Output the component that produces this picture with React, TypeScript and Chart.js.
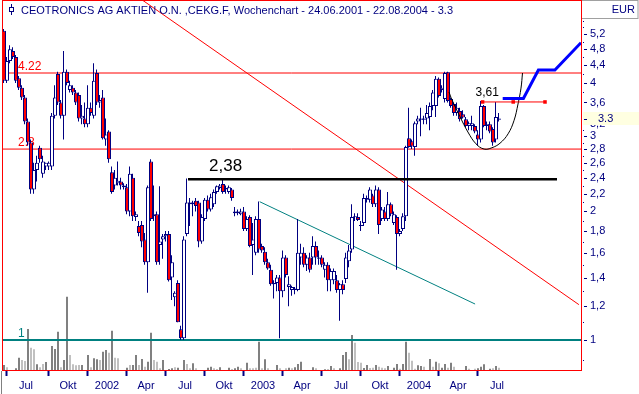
import React, { useEffect, useRef } from 'react';
import { Chart, registerables } from 'chart.js';

Chart.register(...registerables);

// ---------------- data ----------------
const TITLE = 'CEOTRONICS AG AKTIEN O.N. ,CEKG.F, Wochenchart - 24.06.2001 - 22.08.2004 - 3.3';
const FIRST_WEEK = Date.UTC(2001, 5, 24);
const CURRENCY = 'EUR';

const opens = [
  5.3, 4.05, 4.5, 4.75, 4.6, 4.1, 3.9, 3.7, 3.25, 2.9,
  2.25, 2.5, 2.82, 2.45, 2.55, 2.55, 2.55, 3.35, 4.2, 3.6,
  3.35, 4.25, 3.85, 3.9, 3.8, 3.75, 3.3, 3.3, 3.2, 3.5,
  3.35, 4.22, 3.6, 3.7, 2.95, 3.08, 2.47, 2.3, 2.33, 2.35,
  2.28, 2.28, 2.0, 2.4, 1.94, 1.85, 1.86, 1.72, 1.52, 2.62,
  1.95, 1.97, 1.67, 1.72, 1.75, 1.77, 1.4, 1.26, 1.36, 1.06,
  1.01, 1.77, 2.1, 2.08, 2.12, 2.1, 1.7, 1.92, 2.13, 2.02,
  2.08, 2.22, 2.27, 2.32, 2.25, 2.22, 2.25, 2.0, 1.98, 1.97,
  2.0, 1.82, 1.94, 1.67, 1.6, 1.92, 1.66, 1.61, 1.52, 1.46,
  1.35, 1.36, 1.4, 1.3, 1.56, 1.33, 1.31, 1.31, 1.31, 1.56,
  1.6, 1.5, 1.56, 1.56, 1.66, 1.55, 1.56, 1.46, 1.5, 1.38,
  1.38, 1.38, 1.31, 1.35, 1.39, 1.53, 1.63, 1.94, 1.94, 1.85,
  1.88, 2.13, 2.13, 2.18, 2.08, 2.25, 1.92, 2.0, 1.92, 2.08,
  1.88, 1.94, 1.77, 1.82, 1.95, 2.97, 2.92, 2.83, 3.25, 3.3,
  3.28, 3.3, 3.33, 3.53, 3.53, 4.09, 3.85, 3.67, 4.24, 3.67,
  3.57, 3.4, 3.44, 3.38, 3.29, 3.17, 3.17, 3.17, 3.03, 2.95,
  3.53, 3.17, 3.2, 3.12, 2.95, 3.28,
];
const highs = [
  5.35, 4.6, 4.9, 4.85, 4.65, 4.15, 3.95, 3.75, 3.3, 2.95,
  2.6, 2.7, 2.85, 2.7, 2.6, 2.62, 3.4, 3.95, 4.25, 3.65,
  4.75, 4.3, 4.05, 3.95, 3.85, 3.8, 3.55, 3.6, 3.95, 3.6,
  4.45, 4.3, 3.75, 3.85, 3.3, 3.1, 2.55, 2.5, 2.62, 2.4,
  2.33, 2.32, 2.55, 2.45, 2.0, 1.9, 1.9, 1.78, 2.3, 2.65,
  2.3, 2.0, 2.29, 1.77, 1.8, 1.8, 1.58, 1.3, 1.38, 1.08,
  1.75, 2.39, 2.15, 2.12, 2.15, 2.12, 1.97, 2.15, 2.18, 2.2,
  2.25, 2.3, 2.32, 2.37, 2.3, 2.3, 2.27, 2.05, 2.02, 2.03,
  2.05, 1.95, 1.96, 1.88, 1.95, 2.11, 1.68, 1.65, 1.55, 1.5,
  1.38, 1.42, 1.42, 1.62, 1.58, 1.41, 1.34, 1.33, 1.92, 1.68,
  1.65, 1.58, 1.6, 1.75, 1.7, 1.62, 1.58, 1.52, 1.52, 1.47,
  1.47, 1.42, 1.36, 1.38, 1.6, 1.67, 2.08, 1.98, 1.98, 1.9,
  2.2, 2.18, 2.28, 2.2, 2.3, 2.28, 2.05, 2.05, 2.22, 2.1,
  2.0, 1.96, 1.82, 1.98, 2.85, 3.5, 2.95, 3.25, 3.35, 3.5,
  3.35, 3.55, 3.6, 3.85, 4.15, 4.12, 3.95, 4.25, 4.25, 3.7,
  3.6, 3.6, 3.5, 3.45, 3.33, 3.25, 3.35, 3.2, 3.1, 3.63,
  3.55, 3.25, 3.25, 3.15, 3.61, 3.4,
];
const lows = [
  4.0, 4.0, 4.45, 4.55, 4.0, 3.85, 3.65, 3.2, 2.85, 2.2,
  2.2, 2.35, 2.6, 2.4, 2.5, 2.5, 2.5, 3.3, 3.55, 3.3,
  2.95, 3.95, 3.8, 3.75, 3.55, 3.25, 3.2, 3.15, 3.15, 3.35,
  3.3, 3.55, 3.5, 2.95, 2.85, 2.6, 2.2, 2.25, 2.3, 2.25,
  2.25, 1.97, 1.95, 1.9, 1.9, 1.75, 1.65, 1.5, 1.29, 1.9,
  1.9, 1.5, 1.5, 1.55, 1.7, 1.37, 1.24, 1.2, 1.1, 1.0,
  1.0, 1.75, 1.85, 1.95, 2.0, 1.65, 1.68, 1.9, 2.0, 2.0,
  2.05, 2.2, 2.25, 2.2, 2.2, 2.2, 2.12, 1.95, 1.96, 1.96,
  1.8, 1.8, 1.65, 1.42, 1.58, 1.6, 1.6, 1.5, 1.46, 1.34,
  1.25, 1.3, 1.01, 1.26, 1.4, 1.2, 1.27, 1.28, 1.3, 1.5,
  1.48, 1.45, 1.44, 1.5, 1.5, 1.5, 1.48, 1.4, 1.3, 1.3,
  1.35, 1.29, 1.11, 1.28, 1.36, 1.48, 1.6, 1.9, 1.9, 1.8,
  1.85, 2.1, 2.1, 2.05, 2.05, 1.77, 1.9, 1.9, 1.9, 1.95,
  1.86, 1.46, 1.75, 1.8, 1.9, 2.82, 2.8, 2.7, 3.2, 3.0,
  3.2, 3.2, 3.1, 3.45, 3.33, 3.7, 3.8, 3.6, 3.6, 3.5,
  3.35, 3.35, 3.25, 3.3, 3.15, 3.1, 3.1, 3.05, 2.85, 2.9,
  3.15, 3.1, 3.05, 2.85, 2.9, 3.25,
];
const closes = [
  4.05, 4.5, 4.8, 4.6, 4.05, 3.9, 3.7, 3.25, 2.9, 2.25,
  2.5, 2.6, 2.65, 2.62, 2.6, 2.6, 3.35, 3.7, 3.6, 3.35,
  4.25, 4.0, 3.95, 3.8, 3.6, 3.3, 3.35, 3.2, 3.5, 3.4,
  4.05, 3.6, 3.65, 2.97, 3.03, 2.65, 2.22, 2.4, 2.36, 2.3,
  2.3, 2.0, 2.45, 1.95, 1.97, 1.78, 1.7, 1.52, 2.28, 1.92,
  1.97, 1.52, 1.7, 1.75, 1.77, 1.38, 1.52, 1.29, 1.1, 1.01,
  1.72, 2.1, 2.08, 2.1, 2.06, 1.7, 1.94, 2.13, 2.02, 2.16,
  2.22, 2.29, 2.3, 2.22, 2.27, 2.28, 2.15, 1.98, 2.0, 2.0,
  1.82, 1.92, 1.66, 1.72, 1.92, 1.63, 1.62, 1.52, 1.47, 1.35,
  1.36, 1.4, 1.3, 1.56, 1.42, 1.35, 1.33, 1.32, 1.6, 1.6,
  1.5, 1.56, 1.46, 1.66, 1.56, 1.56, 1.5, 1.5, 1.38, 1.45,
  1.45, 1.31, 1.35, 1.31, 1.56, 1.62, 1.94, 1.95, 1.91, 1.86,
  2.15, 2.15, 2.25, 2.08, 2.25, 1.86, 2.02, 1.92, 2.08, 1.97,
  1.97, 1.77, 1.8, 1.95, 2.83, 2.83, 2.84, 3.22, 3.3, 3.28,
  3.3, 3.4, 3.53, 3.8, 4.09, 3.73, 3.9, 4.22, 3.63, 3.53,
  3.4, 3.5, 3.29, 3.32, 3.17, 3.22, 3.22, 3.08, 2.95, 3.53,
  3.17, 3.2, 3.08, 2.9, 3.33, 3.3,
];
// weekly volume (thousand shares)
const volumes = [
  50, 27, 0, 0, 17, 123, 100, 90, 410, 223,
  207, 57, 27, 60, 80, 0, 240, 210, 383, 27,
  100, 733, 150, 57, 47, 50, 50, 0, 150, 27,
  117, 107, 100, 183, 200, 173, 393, 123, 117, 0,
  0, 23, 50, 50, 150, 50, 110, 33, 83, 373,
  100, 83, 17, 100, 0, 10, 17, 27, 23, 0,
  100, 60, 17, 67, 17, 0, 0, 0, 23, 33,
  17, 10, 27, 0, 0, 23, 10, 17, 33, 17,
  0, 73, 17, 17, 23, 283, 17, 107, 17, 0,
  0, 50, 17, 0, 17, 23, 17, 27, 60, 83,
  0, 0, 0, 27, 17, 0, 0, 7, 10, 40,
  17, 0, 17, 150, 180, 107, 350, 273, 80, 73,
  20, 50, 20, 23, 50, 33, 23, 17, 40, 0,
  23, 60, 13, 60, 283, 173, 93, 13, 47, 40,
  33, 0, 110, 33, 83, 67, 23, 60, 23, 73,
  33, 0, 0, 0, 40, 13, 0, 13, 17, 33,
  57, 0, 13, 17, 40, 23,
];
// 1 = volume of a rising week (dark), 0 = falling week (light)
const volumeUp = [
  1, 0, 0, 0, 1, 1, 0, 0, 1, 0,
  0, 1, 0, 0, 1, 0, 1, 1, 1, 0,
  1, 1, 0, 0, 0, 0, 1, 0, 1, 0,
  1, 1, 0, 1, 1, 0, 1, 0, 0, 0,
  0, 1, 0, 1, 1, 0, 1, 0, 1, 1,
  0, 0, 0, 1, 0, 1, 1, 0, 1, 0,
  1, 0, 0, 1, 0, 0, 0, 0, 1, 1,
  0, 0, 1, 0, 0, 1, 0, 1, 1, 0,
  0, 1, 0, 0, 0, 1, 0, 1, 0, 0,
  0, 1, 0, 0, 0, 1, 0, 1, 1, 1,
  0, 0, 0, 1, 0, 0, 0, 1, 0, 1,
  0, 0, 1, 1, 1, 0, 1, 0, 0, 0,
  1, 1, 0, 0, 1, 0, 0, 0, 1, 0,
  1, 1, 0, 1, 1, 0, 0, 0, 1, 1,
  0, 0, 1, 0, 1, 0, 1, 1, 0, 1,
  0, 0, 0, 0, 1, 0, 0, 0, 1, 1,
  1, 0, 1, 0, 1, 0,
];

const Y_TICKS = [1, 1.2, 1.4, 1.6, 1.8, 2, 2.2, 2.4, 2.6, 2.8, 3, 3.2, 3.6, 4, 4.4, 4.8, 5.2];
const Y_MINOR = [0.9, 1.1, 1.3, 1.5, 1.7, 1.9, 2.1, 2.3, 2.5, 2.7, 2.9, 3.1, 3.4, 3.8, 4.2, 4.6, 5.0, 5.4, 5.6];
const MONTH_NAMES = ['', 'Apr', 'Jul', 'Okt'];

// horizontal levels
const RESISTANCE = 4.22;
const SUPPORT = 2.8;
const BASE_LEVEL = 1;
const BREAK_LEVEL = 2.38;
const TARGET_LEVEL = 3.61;
const LAST_PRICE = 3.3;

// drawn lines (x = week index, y = price)
const redTrend = [{ x: 46.2, y: 6.26 }, { x: 191.8, y: 1.21 }];
const tealTrend = [{ x: 85.4, y: 2.108 }, { x: 157.2, y: 1.214 }];
const breakLine = [{ x: 61.5, y: BREAK_LEVEL }, { x: 184.5, y: BREAK_LEVEL }];
const targetLine = [{ x: 159.7, y: TARGET_LEVEL }, { x: 169.9, y: TARGET_LEVEL }, { x: 180.5, y: TARGET_LEVEL }];
const projection = [
  { x: 166.4, y: 3.68 }, { x: 173.3, y: 3.68 }, { x: 178.3, y: 4.29 },
  { x: 183.8, y: 4.29 }, { x: 192.5, y: 4.97 },
];
const cupArc = [
  { x: 148.5, y: 3.81 }, { x: 149.5, y: 3.65 }, { x: 152.2, y: 3.33 }, { x: 154.8, y: 3.07 },
  { x: 157.5, y: 2.88 }, { x: 160.2, y: 2.8 }, { x: 162.8, y: 2.82 }, { x: 165.5, y: 2.89 },
  { x: 168.2, y: 3.04 }, { x: 170.2, y: 3.27 }, { x: 171.5, y: 3.57 }, { x: 172.5, y: 3.89 },
  { x: 173.0, y: 4.22 },
];

const X_MIN = -0.5;
const X_MAX = 192.5;
const BODY_SHIFT = 1 / 6; // half a pixel in weeks, keeps the 4px bodies on whole pixels
const Y_MIN = 0.8506;
const Y_MAX = 6.256;
const VOL_MAX = 3700;

// ---------------- derived ----------------
const DAY = 86400000;
const weekDate = (i: number) => new Date(FIRST_WEEK + i * 7 * DAY);
const quarterTicks: { index: number; label: string }[] = [];
for (let i = 1; i < closes.length; i++) {
  const m = weekDate(i).getUTCMonth();
  const pm = weekDate(i - 1).getUTCMonth();
  if (m !== pm && m % 3 === 0) {
    quarterTicks.push({ index: i, label: m === 0 ? String(weekDate(i).getUTCFullYear()) : MONTH_NAMES[m / 3] });
  }
}

const FONT = '"Liberation Sans", Arial, sans-serif';
const NAVY = '#000080';
const fmt = (v: number) => String(v).replace('.', ',');
const hline = (v: number) => [{ x: X_MIN, y: v }, { x: X_MAX, y: v }];

const overlay = {
  id: 'overlay',
  beforeDatasetsDraw(chart: any) {
    const { ctx, chartArea } = chart;
    const ys = chart.scales.y;
    ctx.save();
    ctx.font = `12px ${FONT}`;
    ctx.textAlign = 'left';
    ctx.textBaseline = 'alphabetic';
    const lv = (v: number, color: string) => {
      ctx.fillStyle = color;
      ctx.fillText(String(v), chartArea.left + 16, ys.getPixelForValue(v) - 3);
    };
    lv(RESISTANCE, '#ff0000');
    lv(SUPPORT, '#ff0000');
    lv(BASE_LEVEL, '#008080');
    ctx.restore();
  },
  afterDatasetsDraw(chart: any) {
    const { ctx } = chart;
    const xs = chart.scales.x;
    const ys = chart.scales.y;
    ctx.save();
    ctx.fillStyle = '#000000';
    ctx.textAlign = 'left';
    ctx.textBaseline = 'alphabetic';
    ctx.font = `17px ${FONT}`;
    ctx.fillText(fmt(BREAK_LEVEL), xs.getPixelForValue(breakLine[0].x) + 21, ys.getPixelForValue(BREAK_LEVEL) - 8);
    ctx.font = `12px ${FONT}`;
    ctx.fillText(fmt(TARGET_LEVEL), xs.getPixelForValue(targetLine[0].x) - 7, ys.getPixelForValue(TARGET_LEVEL) - 6);
    ctx.restore();
  },
  afterDraw(chart: any) {
    const { ctx, chartArea, width, height } = chart;
    const ys = chart.scales.y;
    const { left, right, top, bottom } = chartArea;
    ctx.save();
    // y tick marks
    ctx.fillStyle = NAVY;
    Y_TICKS.forEach((v) => {
      const y = Math.round(ys.getPixelForValue(v));
      ctx.fillRect(right + 3, y, 3, 1);
    });
    Y_MINOR.forEach((v) => {
      const y = Math.round(ys.getPixelForValue(v));
      if (y > 0 && y < bottom) ctx.fillRect(right + 2, y, 1, 1);
    });
    // current price box
    const py = ys.getPixelForValue(LAST_PRICE);
    ctx.fillStyle = '#ffffe1';
    ctx.fillRect(right + 2, Math.round(py) - 7, width - right - 2, 13);
    ctx.fillStyle = NAVY;
    ctx.fillRect(right + 3, Math.round(py), 3, 1);
    ctx.font = `11px ${FONT}`;
    ctx.textAlign = 'left';
    ctx.textBaseline = 'middle';
    ctx.fillText(String(LAST_PRICE), right + 17, py);
    // EUR box
    ctx.strokeStyle = '#a0a0a0';
    ctx.lineWidth = 1;
    ctx.strokeRect(right + 0.5, 0.5, width - right - 1.5, 18);
    ctx.textAlign = 'right';
    ctx.textBaseline = 'alphabetic';
    ctx.fillStyle = NAVY;
    ctx.fillText(CURRENCY, width - 4, 13);
    // frame
    ctx.strokeStyle = '#ff0000';
    ctx.strokeRect(left + 0.5, top + 0.5, right - left, bottom - top);
    ctx.strokeStyle = '#808080';
    ctx.beginPath();
    ctx.moveTo(1.5, bottom + 1);
    ctx.lineTo(1.5, height);
    ctx.stroke();
    // title with icon
    ctx.strokeStyle = NAVY;
    ctx.beginPath();
    ctx.moveTo(11.5, 4);
    ctx.lineTo(11.5, 15);
    ctx.stroke();
    ctx.fillStyle = '#ffffff';
    ctx.fillRect(9, 7, 5, 5);
    ctx.strokeRect(9.5, 7.5, 4, 4);
    ctx.fillStyle = NAVY;
    ctx.font = `11px ${FONT}`;
    ctx.textAlign = 'left';
    ctx.fillText(TITLE, 21, 13.5);
    ctx.restore();
  },
};

export default function App() {
  const ref = useRef<HTMLCanvasElement>(null);
  useEffect(() => {
    document.body.style.margin = '0';
    Chart.defaults.font.family = FONT;
    Chart.defaults.font.size = 11;
    const bodies = closes.map((c, i) => ({ x: i, y: [opens[i], c] }));
    const wicks = closes.map((_, i) => ({ x: i, y: [lows[i], highs[i]] }));
    const vols = volumes.map((v, i) => ({ x: i, y: v }));
    const lineBase = { type: 'line', pointRadius: 0, borderWidth: 1, fill: false, tension: 0, xAxisID: 'x', yAxisID: 'y' };
    const chart = new Chart(ref.current as HTMLCanvasElement, {
      type: 'bar',
      data: {
        datasets: [
          { ...lineBase, label: 'Projektion', data: projection, borderColor: '#0000ff', borderWidth: 3, order: 0 },
          {
            ...lineBase, label: 'Ziel', data: targetLine, borderColor: '#ff0000', pointRadius: 2.5,
            pointStyle: 'rect', pointBackgroundColor: '#ff0000', pointBorderWidth: 0, order: 1,
          },
          { ...lineBase, label: 'Bogen', data: cupArc, borderColor: '#000000', tension: 0.4, order: 2 },
          { ...lineBase, label: 'Ausbruch', data: breakLine, borderColor: '#000000', borderWidth: 2.5, order: 3 },
          {
            type: 'bar', label: 'Körper', data: bodies, xAxisID: 'xb', yAxisID: 'y',
            backgroundColor: closes.map((c, i) => (c < opens[i] ? '#ff0000' : '#ffffff')),
            borderColor: NAVY, borderWidth: 1, borderSkipped: false, barThickness: 4, grouped: false,
            inflateAmount: 0, order: 4,
          },
          {
            type: 'bar', label: 'Docht', data: wicks, xAxisID: 'x', yAxisID: 'y',
            backgroundColor: NAVY, borderWidth: 0, barThickness: 1, grouped: false, inflateAmount: 0, order: 5,
          },
          { ...lineBase, label: 'Trend', data: redTrend, borderColor: '#ff0000', order: 6 },
          { ...lineBase, label: 'Trend2', data: tealTrend, borderColor: '#008080', order: 6 },
          { ...lineBase, label: 'Basis', data: hline(BASE_LEVEL), borderColor: '#008080', borderWidth: 2, order: 7 },
          { ...lineBase, label: 'Widerstand', data: hline(RESISTANCE), borderColor: '#ff0000', order: 8 },
          { ...lineBase, label: 'Unterstützung', data: hline(SUPPORT), borderColor: '#ff0000', order: 8 },
          {
            type: 'bar', label: 'Volumen', data: vols, xAxisID: 'xb', yAxisID: 'y2',
            backgroundColor: volumeUp.map((u) => (u ? '#808080' : '#c0c0c0')),
            borderWidth: 0, barThickness: 2, grouped: false, inflateAmount: 0, order: 10,
          },
        ] as any,
      },
      options: {
        animation: false,
        responsive: false,
        devicePixelRatio: 1,
        events: [],
        layout: { padding: { left: 2, top: 0, right: 0, bottom: 0 }, autoPadding: false },
        plugins: { legend: { display: false }, tooltip: { enabled: false }, title: { display: false } },
        scales: {
          x: {
            type: 'linear',
            position: 'bottom',
            min: X_MIN,
            max: X_MAX,
            offset: false,
            afterBuildTicks: (s: any) => {
              s.ticks = quarterTicks.map((q) => ({ value: q.index }));
            },
            afterFit: (s: any) => {
              s.height = 24;
              s.paddingLeft = 0;
              s.paddingRight = 0;
            },
            ticks: {
              autoSkip: false,
              maxRotation: 0,
              labelOffset: 19.5,
              padding: 3,
              color: NAVY,
              font: { family: FONT, size: 11 },
              callback: (_v: any, i: number) => (quarterTicks[i] ? quarterTicks[i].label : ''),
            },
            grid: { drawOnChartArea: false, drawTicks: true, tickLength: 6, tickColor: NAVY, tickWidth: 2, offset: false },
            border: { display: false },
          },
          xb: {
            type: 'linear',
            display: false,
            min: X_MIN - BODY_SHIFT,
            max: X_MAX - BODY_SHIFT,
            offset: false,
            grid: { offset: false },
          },
          y: {
            type: 'logarithmic',
            position: 'right',
            min: Y_MIN,
            max: Y_MAX,
            afterBuildTicks: (s: any) => {
              s.ticks = Y_TICKS.map((v) => ({ value: v }));
            },
            afterFit: (s: any) => {
              s.width = 58;
              s.paddingTop = 0;
              s.paddingBottom = 0;
            },
            ticks: {
              autoSkip: false,
              padding: 9,
              color: NAVY,
              font: { family: FONT, size: 11 },
              callback: (v: any) => fmt(Number(v)),
            },
            grid: { drawOnChartArea: false, drawTicks: false },
            border: { display: false },
          },
          y2: { type: 'linear', display: false, min: 0, max: VOL_MAX },
        },
      } as any,
      plugins: [overlay],
    });
    return () => chart.destroy();
  }, []);
  return (
    <canvas
      ref={ref}
      width={639}
      height={394}
      style={{ display: 'block', width: 639, height: 394 }}
    />
  );
}
